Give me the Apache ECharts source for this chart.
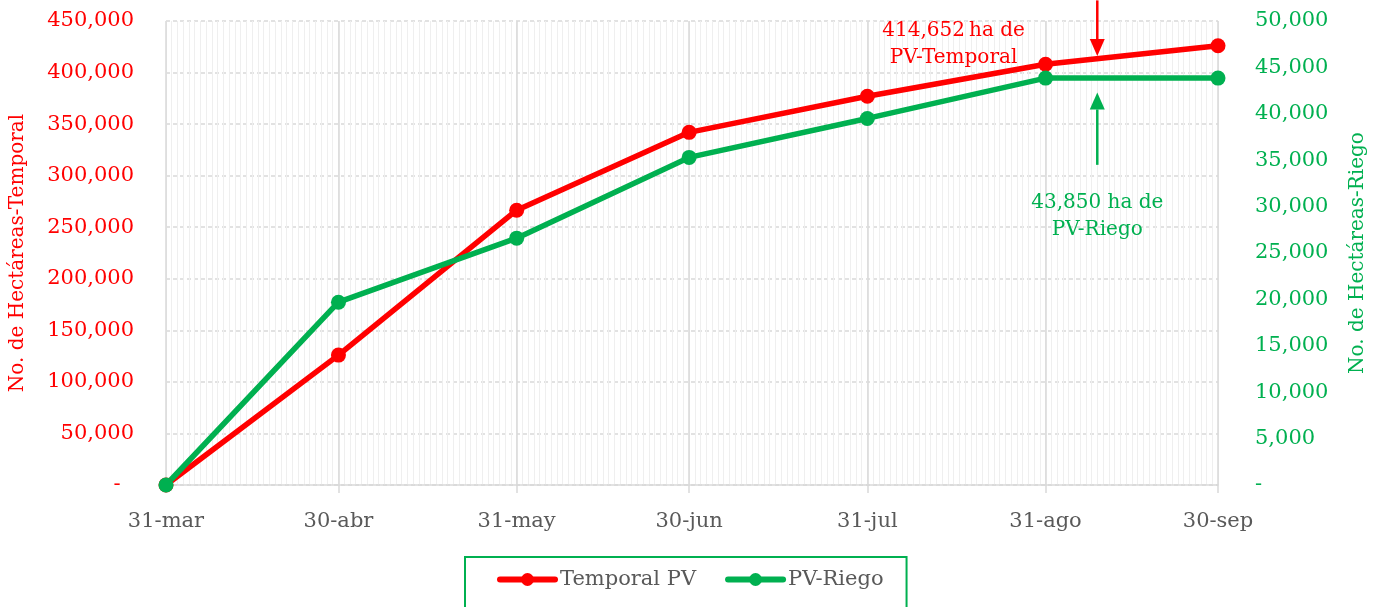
<!DOCTYPE html>
<html><head><meta charset="utf-8">
<script src="https://cdn.jsdelivr.net/npm/echarts@6/dist/echarts.min.js"></script>
<style>html,body{margin:0;padding:0;background:#fff}#c{width:1378px;height:607px}</style>
</head><body><div id="c"></div>
<script>
// ---- data ----
const tickLabels = ['31-mar','30-abr','31-may','30-jun','31-jul','31-ago','30-sep'];
const temporal = [0, 126000, 266500, 342000, 377000, 408000, 426000];
const riego = [0, 19700, 26600, 35300, 39500, 43850, 43850];
const monthNames = ['ene','feb','mar','abr','may','jun','jul','ago','sep','oct','nov','dic'];
// annotations: [date, value]
const redArrow = ['9-sep', 470000, 416000];      // left axis: tail, tip
const greenArrow = ['9-sep', 34500, 42300];      // right axis: tail, tip
const redText = ['15-ago', 427000, '414,652\u2009ha de\nPV-Temporal'];
const greenText = ['9-sep', 29000, '43,850 ha de\nPV-Riego'];

// daily categories 31-mar .. 30-sep
const days = [];
for (let d = new Date(2020, 2, 31, 12); d <= new Date(2020, 8, 30, 12); d.setDate(d.getDate() + 1)) {
  days.push(d.getDate() + '-' + monthNames[d.getMonth()]);
}
const isMajor = (i, v) => tickLabels.indexOf(v) >= 0;

const RED = '#FF0000', GREEN = '#00B050', GRAY = '#595959';
const FONT = 'DejaVu Serif';
const fmt = v => v === 0 ? '-' : v.toLocaleString('en-US');

const chart = echarts.init(document.getElementById('c'));
chart.setOption({
  animation: false,
  textStyle: { fontFamily: FONT },
  grid: { left: 166, right: 160, top: 21, bottom: 122 },
  legend: {
    left: 465, top: 557,
    padding: [12, 23, 30, 32],
    borderColor: GREEN, borderWidth: 2,
    itemWidth: 55, itemHeight: 16, itemGap: 29,
    lineStyle: { width: 6, cap: 'round' },
    textStyle: { fontFamily: FONT, fontSize: 21, color: GRAY },
    data: ['Temporal PV', 'PV-Riego']
  },
  xAxis: [{
    type: 'category', data: days, boundaryGap: false,
    axisLine: { lineStyle: { color: '#d9d9d9', width: 1.5 } },
    axisTick: { show: true, interval: isMajor, length: 8, lineStyle: { color: '#d9d9d9', width: 1.5 } },
    axisLabel: { interval: isMajor, color: GRAY, fontSize: 21, margin: 26, fontFamily: FONT },
    splitLine: { show: true, interval: 0, lineStyle: { color: '#efefef', width: 1 } }
  }, {
    type: 'category', data: days, boundaryGap: false, position: 'bottom',
    axisLine: { show: false }, axisTick: { show: false }, axisLabel: { show: false },
    splitLine: { show: true, interval: isMajor, lineStyle: { color: '#d9d9d9', width: 1.5 } }
  }],
  yAxis: [{
    type: 'value', min: 0, max: 450000, interval: 50000,
    name: 'No. de Hectáreas-Temporal', nameLocation: 'middle', nameGap: 138,
    nameTextStyle: { color: RED, fontSize: 20, fontFamily: FONT },
    axisLine: { show: false }, axisTick: { show: false },
    axisLabel: { color: RED, fontSize: 21, margin: 32, fontFamily: FONT,
      formatter: v => v === 0 ? '-  ' : fmt(v) },
    splitLine: { show: true, lineStyle: { color: '#d9d9d9', type: [4, 3], width: 1.5 } }
  }, {
    type: 'value', min: 0, max: 50000, interval: 5000, position: 'right',
    name: 'No. de Hectáreas-Riego', nameLocation: 'middle', nameGap: 130,
    nameTextStyle: { color: GREEN, fontSize: 20, fontFamily: FONT },
    axisLine: { show: false }, axisTick: { show: false },
    axisLabel: { color: GREEN, fontSize: 21, margin: 37, fontFamily: FONT, align: 'left', formatter: fmt },
    splitLine: { show: false }
  }],
  series: [{
    name: 'Temporal PV', type: 'line', xAxisIndex: 0, yAxisIndex: 0,
    data: tickLabels.map((t, i) => [t, temporal[i]]),
    symbol: 'circle', symbolSize: 15,
    lineStyle: { color: RED, width: 5.5 }, itemStyle: { color: RED }
  }, {
    name: 'PV-Riego', type: 'line', xAxisIndex: 0, yAxisIndex: 1,
    data: tickLabels.map((t, i) => [t, riego[i]]),
    symbol: 'circle', symbolSize: 15,
    lineStyle: { color: GREEN, width: 5.5 }, itemStyle: { color: GREEN }
  }]
});

function arrow(axisIdx, spec, color) {
  const a = chart.convertToPixel({ xAxisIndex: 0, yAxisIndex: axisIdx }, [spec[0], spec[1]]);
  const b = chart.convertToPixel({ xAxisIndex: 0, yAxisIndex: axisIdx }, [spec[0], spec[2]]);
  const dir = b[1] > a[1] ? 1 : -1;
  const headLen = 17, headW = 7.5;
  return [{
    type: 'line', z: 100,
    shape: { x1: a[0], y1: a[1], x2: b[0], y2: b[1] - dir * headLen },
    style: { stroke: color, lineWidth: 2.5 }
  }, {
    type: 'polygon', z: 100,
    shape: { points: [[b[0], b[1]], [b[0] - headW, b[1] - dir * headLen], [b[0] + headW, b[1] - dir * headLen]] },
    style: { fill: color }
  }];
}
function label(axisIdx, spec, color) {
  const p = chart.convertToPixel({ xAxisIndex: 0, yAxisIndex: axisIdx }, [spec[0], spec[1]]);
  return {
    type: 'text', z: 100, x: p[0], y: p[1],
    style: { text: spec[2], fill: color, font: '20px "DejaVu Serif"', align: 'center',
      verticalAlign: 'middle', lineHeight: 27 }
  };
}
chart.setOption({
  graphic: [].concat(arrow(0, redArrow, RED), arrow(1, greenArrow, GREEN),
    [label(0, redText, RED), label(1, greenText, GREEN)])
});
</script></body></html>
